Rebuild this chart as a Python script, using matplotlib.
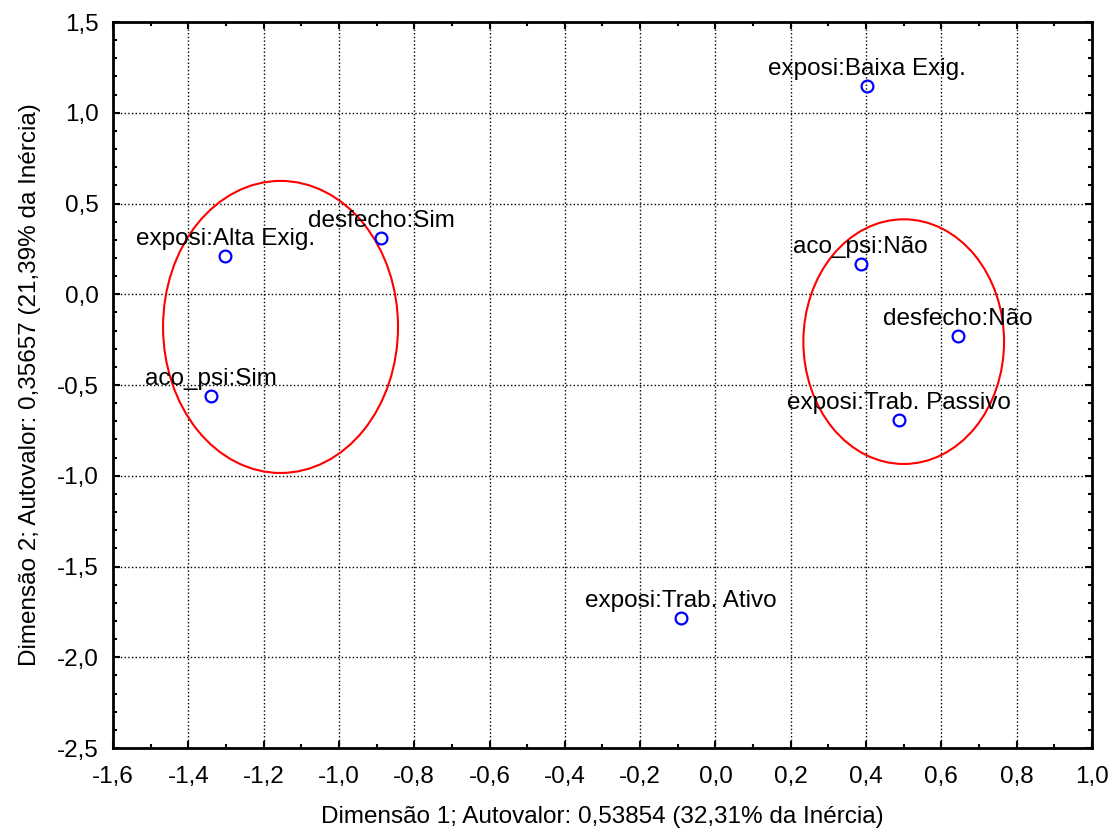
import matplotlib.pyplot as plt
import numpy as np
from matplotlib.patches import Ellipse
from matplotlib.ticker import MultipleLocator, FuncFormatter

plt.rcParams['font.family'] = ['Liberation Sans', 'DejaVu Sans']

# category coordinates on the two dimensions
labels = ["exposi:Baixa Exig.", "desfecho:Sim", "exposi:Alta Exig.", "aco_psi:Não",
          "desfecho:Não", "exposi:Trab. Passivo", "aco_psi:Sim", "exposi:Trab. Ativo"]
dim1 = [0.403, -0.888, -1.302, 0.386, 0.643, 0.488, -1.340, -0.092]
dim2 = [1.148, 0.310, 0.211, 0.167, -0.230, -0.693, -0.560, -1.783]

# grouping ellipses: center x, center y, width, height
ell_cx = [-1.155, 0.500]
ell_cy = [-0.180, -0.261]
ell_w = [0.624, 0.533]
ell_h = [1.609, 1.348]

fs = 17.5

fig = plt.figure(figsize=(11.12, 8.34), dpi=100)
ax = fig.add_axes([0.1016, 0.1031, 0.8804, 0.8705])

ax.plot(dim1, dim2, 'o', mfc='none', mec='blue', ms=8.5, mew=1.6, zorder=4)
for lab, x, y in zip(labels, dim1, dim2):
    ax.annotate(lab, (x, y), xytext=(0, 4), textcoords='offset points',
                ha='center', va='bottom', fontsize=fs, zorder=5)

for cx, cy, w, h in zip(ell_cx, ell_cy, ell_w, ell_h):
    ax.add_patch(Ellipse((cx, cy), w, h, fill=False, ec='red', lw=1.5, zorder=3))

ax.set_xlim(-1.6, 1.0)
ax.set_ylim(-2.5, 1.5)
ax.xaxis.set_major_locator(MultipleLocator(0.2))
ax.xaxis.set_minor_locator(MultipleLocator(0.1))
ax.yaxis.set_major_locator(MultipleLocator(0.5))
ax.yaxis.set_minor_locator(MultipleLocator(0.1))
comma = FuncFormatter(lambda v, p: f"{v:.1f}".replace('.', ',').replace('-0,0', '0,0'))
ax.xaxis.set_major_formatter(comma)
ax.yaxis.set_major_formatter(comma)

ax.tick_params(which='both', direction='in', top=True, right=True, labelsize=fs,
               width=1.5, color='black')
ax.tick_params(which='major', length=5, pad=10)
ax.tick_params(axis='x', which='major', pad=13)
ax.tick_params(which='minor', length=3)
ax.grid(True, which='major', ls=':', color='black', lw=1.0)
for s in ax.spines.values():
    s.set_linewidth(2)

ax.set_xlabel("Dimensão 1; Autovalor: 0,53854 (32,31% da Inércia)", fontsize=fs, labelpad=13)
ax.set_ylabel("Dimensão 2; Autovalor: 0,35657 (21,39% da Inércia)", fontsize=fs, labelpad=12)

fig.savefig("out.png", dpi=100)
